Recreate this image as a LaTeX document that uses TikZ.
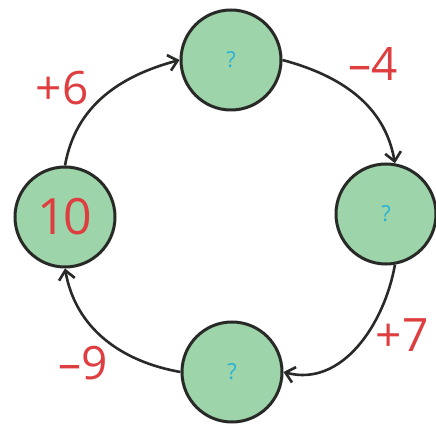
\documentclass[tikz,border=0pt]{standalone}
\usepackage{fontspec}
\setmainfont{Open Sans}
\usetikzlibrary{arrows.meta}
\definecolor{cfill}{RGB}{158,212,170}
\definecolor{cline}{RGB}{40,42,40}
\definecolor{cred}{RGB}{222,62,64}
\definecolor{ccyan}{RGB}{40,178,214}
\begin{document}
\begin{tikzpicture}[x=1pt,y=1pt,
  numnode/.style={circle,draw=cline,fill=cfill,line width=3pt,minimum size=100pt,inner sep=0pt},
  qmark/.style={text=ccyan,font=\fontsize{22}{22}\selectfont},
  oplabel/.style={text=cred,font=\fontsize{46}{46}\selectfont,inner sep=0pt},
  arr/.style={draw=cline,line width=2.6pt,-{Straight Barb[length=9pt,width=16pt,line width=2.6pt]}}]
\useasboundingbox (0,0) rectangle (436,426);
\node[numnode] (T) at (231,366) {};
\node[numnode] (R) at (386,212) {};
\node[numnode] (B) at (232,54) {};
\node[numnode] (L) at (65,209) {};
\node[qmark] (qT) at (T) {?};
\node[qmark] (qR) at (R) {?};
\node[qmark] (qB) at (B) {?};
\node[text=cred,font=\fontsize{50}{50}\selectfont,inner sep=0pt] (ten) at (L) {1\kern-3pt0};
\draw[arr] (L.north) to[out=80,in=195] (T.west);
\draw[arr] (T.east) to[out=-15,in=100] (R.80);
\draw[arr] (R.-80) to[out=-100,in=-15] (B.east);
\draw[arr] (B.west) to[out=170,in=-80] (L.south);
\node[oplabel] (p6) at (62,338) {+6};
\node[oplabel] (m4) at (373,362) {–4};
\node[oplabel] (p7) at (402,91) {+7};
\node[oplabel] (m9) at (83,63) {–9};
\end{tikzpicture}
\end{document}
